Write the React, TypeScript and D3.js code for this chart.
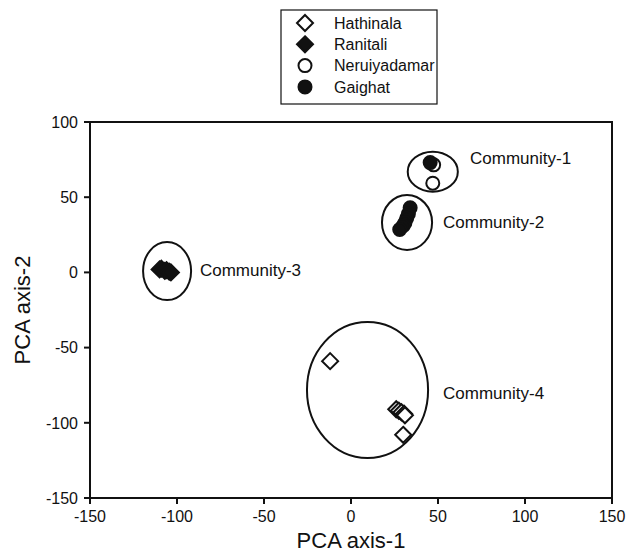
import React from 'react';
import * as d3 from 'd3';

// series (PCA axis-1, PCA axis-2)
const hathinala = [[-12, -59], [26, -91], [27.5, -92], [29, -93], [30.5, -94], [31, -95], [30, -108]];
const ranitali = [[-110, 2], [-109, 2.5], [-107, 1], [-106, 1.5], [-104.5, 0.5], [-103.5, 0]];
const neruiyadamar = [[47, 59.3], [47.5, 71.5]];
const gaighat = [[45.5, 73], [34, 43], [33, 39], [32, 36], [31, 33], [30, 31], [28, 28.5]];

// communities: centre x, centre y, radius x, radius y, label position (data units)
const communities = [
  { name: 'Community-1', cx: 47, cy: 67, rx: 14.4, ry: 13.3, lx: 68.4, ly: 76 },
  { name: 'Community-2', cx: 32.2, cy: 33.2, rx: 14.4, ry: 18.3, lx: 52.9, ly: 33.5 },
  { name: 'Community-3', cx: -105.7, cy: 0.9, rx: 13.8, ry: 19.3, lx: -86.8, ly: 1.6 },
  { name: 'Community-4', cx: 9.5, cy: -78.2, rx: 34.8, ry: 45.2, lx: 52.9, ly: -80.2 },
];

const xTicks = [-150, -100, -50, 0, 50, 100, 150];
const yTicks = [-150, -100, -50, 0, 50, 100];
const legendNames = ['Hathinala', 'Ranitali', 'Neruiyadamar', 'Gaighat'];

const W = 628, H = 557;
const left = 90, right = 612, top = 122, bottom = 498;
const font = 'Arial, "Liberation Sans", sans-serif';

const x = d3.scaleLinear().domain([-150, 150]).range([left, right]);
const y = d3.scaleLinear().domain([-150, 100]).range([bottom, top]);

const dr = 8; // diamond half diagonal
const diamond = `M0,${-dr}L${dr},0L0,${dr}L${-dr},0Z`;
const circle = d3.symbol().type(d3.symbolCircle).size(Math.PI * 6.5 * 6.5)();

function Marker({ kind, tx, ty }: { kind: number; tx: number; ty: number }) {
  const d = kind < 2 ? diamond : circle;
  const filled = kind === 1 || kind === 3;
  return (
    <path
      d={d}
      transform={`translate(${tx},${ty})`}
      fill={filled ? '#111' : '#fff'}
      stroke="#111"
      strokeWidth={2}
    />
  );
}

export default function App() {
  const series = [hathinala, ranitali, neruiyadamar, gaighat];
  const kinds = [0, 1, 2, 3];
  return (
    <svg width={W} height={H} style={{ position: 'absolute', left: 0, top: 0 }}>
      <rect width={W} height={H} fill="#fff" />
      {/* legend */}
      <rect x={281} y={10} width={156} height={94} fill="#fff" stroke="#111" strokeWidth={1.2} />
      {legendNames.map((n, i) => (
        <g key={n}>
          <Marker kind={i} tx={305} ty={23 + i * 21.3} />
          <text x={334} y={23 + i * 21.3} dy="0.36em" fontSize={16} fontFamily={font} fill="#111">{n}</text>
        </g>
      ))}
      {/* ellipses */}
      {communities.map(c => (
        <g key={c.name}>
          <ellipse
            cx={x(c.cx)} cy={y(c.cy)}
            rx={x(c.cx + c.rx) - x(c.cx)} ry={y(c.cy) - y(c.cy + c.ry)}
            fill="none" stroke="#111" strokeWidth={2}
          />
          <text x={x(c.lx)} y={y(c.ly)} dy="0.36em" fontSize={17} fontFamily={font} fill="#111">{c.name}</text>
        </g>
      ))}
      {/* points */}
      {series.map((s, si) => s.map((p, i) => (
        <Marker key={si + '-' + i} kind={kinds[si]} tx={x(p[0])} ty={y(p[1])} />
      )))}
      {/* frame */}
      <rect x={left} y={top} width={right - left} height={bottom - top} fill="none" stroke="#111" strokeWidth={2} />
      {xTicks.map(t => (
        <g key={'x' + t}>
          <line x1={x(t)} x2={x(t)} y1={bottom} y2={bottom + 6} stroke="#111" strokeWidth={2} />
          <text x={x(t)} y={bottom + 24} textAnchor="middle" fontSize={16} fontFamily={font} fill="#111">{t}</text>
        </g>
      ))}
      {yTicks.map(t => (
        <g key={'y' + t}>
          <line x1={left - 6} x2={left} y1={y(t)} y2={y(t)} stroke="#111" strokeWidth={2} />
          <text x={left - 12} y={y(t)} dy="0.36em" textAnchor="end" fontSize={16} fontFamily={font} fill="#111">{t}</text>
        </g>
      ))}
      <text x={(left + right) / 2} y={548} textAnchor="middle" fontSize={22} fontFamily={font} fill="#111">PCA axis-1</text>
      <text transform={`translate(30,${(top + bottom) / 2}) rotate(-90)`} textAnchor="middle" fontSize={22} fontFamily={font} fill="#111">PCA axis-2</text>
    </svg>
  );
}
